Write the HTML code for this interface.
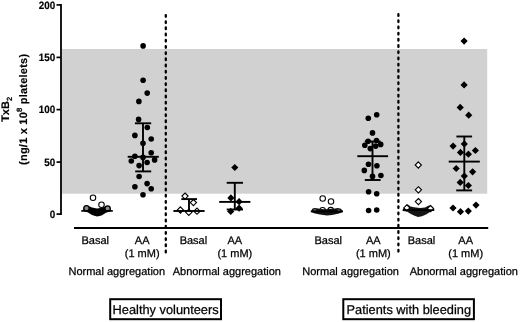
<!DOCTYPE html>
<html><head><meta charset="utf-8"><style>
html,body{margin:0;padding:0;background:#fff;width:520px;height:322px;overflow:hidden}
svg{display:block;filter:grayscale(1)}
text{font-family:"Liberation Sans",sans-serif;fill:#000;text-rendering:geometricPrecision}
.tk{font-size:10.6px;font-weight:bold;text-anchor:end;stroke:#000;stroke-width:0.2px}
.xl{font-size:11px;text-anchor:middle;stroke:#000;stroke-width:0.25px}
.bx{font-size:12.8px;text-anchor:middle;stroke:#000;stroke-width:0.25px}
.yl{font-size:11px;font-weight:bold;text-anchor:middle;stroke:#000;stroke-width:0.15px}
</style></head><body>
<svg width="520" height="322" viewBox="0 0 520 322">
<rect x="62" y="49" width="425.2" height="144.7" fill="#d1d1d1"/>
<line x1="61" y1="4.05" x2="61" y2="215" stroke="#000" stroke-width="1.8"/>
<line x1="56.5" y1="4.9" x2="61" y2="4.9" stroke="#000" stroke-width="1.7"/>
<text transform="translate(55.2,8.75) scale(0.93,1)" class="tk">200</text>
<line x1="56.5" y1="57.4" x2="61" y2="57.4" stroke="#000" stroke-width="1.7"/>
<text transform="translate(55.2,61.25) scale(0.93,1)" class="tk">150</text>
<line x1="56.5" y1="109.6" x2="61" y2="109.6" stroke="#000" stroke-width="1.7"/>
<text transform="translate(55.2,113.44999999999999) scale(0.93,1)" class="tk">100</text>
<line x1="56.5" y1="162.1" x2="61" y2="162.1" stroke="#000" stroke-width="1.7"/>
<text transform="translate(55.2,165.95) scale(0.93,1)" class="tk">50</text>
<line x1="56.5" y1="214.1" x2="61" y2="214.1" stroke="#000" stroke-width="1.7"/>
<text transform="translate(55.2,217.95) scale(0.93,1)" class="tk">0</text>
<line x1="74" y1="228" x2="488.2" y2="228" stroke="#000" stroke-width="1.9"/>
<line x1="165.8" y1="15.1" x2="165.8" y2="252.6" stroke="#000" stroke-width="2.3" stroke-dasharray="1.7 4.5" stroke-linecap="round"/>
<line x1="398.4" y1="14.2" x2="398.4" y2="251.5" stroke="#000" stroke-width="2.3" stroke-dasharray="1.7 4.5" stroke-linecap="round"/>
<text x="95.3" y="243.7" class="xl">Basal</text>
<text x="142.2" y="243.7" class="xl">AA</text>
<text x="142.2" y="257.1" class="xl">(1 mM)</text>
<text x="116.8" y="274.8" class="xl">Normal aggregation</text>
<text x="193.4" y="243.7" class="xl">Basal</text>
<text x="234.8" y="243.7" class="xl">AA</text>
<text x="234.8" y="257.1" class="xl">(1 mM)</text>
<text x="226.8" y="274.8" class="xl">Abnormal aggregation</text>
<text x="328.2" y="243.7" class="xl">Basal</text>
<text x="373.3" y="243.7" class="xl">AA</text>
<text x="373.3" y="257.1" class="xl">(1 mM)</text>
<text x="350.6" y="274.8" class="xl">Normal aggregation</text>
<text x="421.5" y="243.7" class="xl">Basal</text>
<text x="465.7" y="243.7" class="xl">AA</text>
<text x="465.7" y="257.1" class="xl">(1 mM)</text>
<text x="463.8" y="274.8" class="xl">Abnormal aggregation</text>
<rect x="110.2" y="299.2" width="110.8" height="20" fill="#fff" stroke="#000" stroke-width="2"/>
<text x="165.6" y="314" class="bx">Healthy volunteers</text>
<rect x="343.3" y="299.2" width="130.6" height="20" fill="#fff" stroke="#000" stroke-width="2"/>
<text x="408.8" y="314" class="bx">Patients with bleeding</text>
<text transform="translate(9.4,109.4) rotate(-90)" class="yl">TxB<tspan font-size="7.5" dy="2.5">2</tspan></text>
<text transform="translate(27.4,109.3) rotate(-90)" class="yl" letter-spacing="0.22">(ng/1 x 10<tspan font-size="7.7" dy="-5.2">8</tspan><tspan dy="5.2"> platelets)</tspan></text>
<path d="M83 209 L84 206.5 L86.5 205.3 L89 206.2 L92 207.5 L97 208.5 L102 207.8 L105 206.5 L107.7 205.8 L110 206.8 L111 209 L110 211.5 L106 212.8 L101.6 215.6 L97 216.4 L92 215 L88 212.5 L84 211Z" fill="#000"/>
<circle cx="86.5" cy="208.2" r="2.6" fill="#8a8a8a" stroke="#000" stroke-width="1.2"/>
<circle cx="107.6" cy="208.5" r="2.6" fill="#8a8a8a" stroke="#000" stroke-width="1.2"/>
<line x1="81.3" y1="210.9" x2="112.8" y2="210.9" stroke="#000" stroke-width="1.7"/>
<circle cx="93" cy="197.8" r="2.75" fill="#fff" stroke="#000" stroke-width="1.05"/>
<circle cx="101.5" cy="204.8" r="2.75" fill="#fff" stroke="#000" stroke-width="1.05"/>
<line x1="143" y1="123.3" x2="143" y2="171.4" stroke="#000" stroke-width="1.9"/>
<line x1="134.9" y1="123.3" x2="151.2" y2="123.3" stroke="#000" stroke-width="1.9"/>
<line x1="135.2" y1="171.4" x2="151.2" y2="171.4" stroke="#000" stroke-width="1.9"/>
<line x1="127.7" y1="156.8" x2="158.8" y2="156.8" stroke="#000" stroke-width="1.9"/>
<circle cx="143.1" cy="45.9" r="2.8" fill="#000"/>
<circle cx="143.1" cy="80.3" r="2.8" fill="#000"/>
<circle cx="147.2" cy="93.1" r="2.8" fill="#000"/>
<circle cx="138.9" cy="101.4" r="2.8" fill="#000"/>
<circle cx="138.6" cy="119.4" r="2.8" fill="#000"/>
<circle cx="147.3" cy="127.5" r="2.8" fill="#000"/>
<circle cx="134.9" cy="135.4" r="2.8" fill="#000"/>
<circle cx="151.2" cy="139" r="2.8" fill="#000"/>
<circle cx="143" cy="143.3" r="2.8" fill="#000"/>
<circle cx="151.2" cy="152.7" r="2.8" fill="#000"/>
<circle cx="134.9" cy="156.3" r="2.8" fill="#000"/>
<circle cx="131.3" cy="161" r="2.8" fill="#000"/>
<circle cx="143" cy="157.4" r="2.8" fill="#000"/>
<circle cx="154.6" cy="159.9" r="2.8" fill="#000"/>
<circle cx="147.1" cy="162.5" r="2.8" fill="#000"/>
<circle cx="139.1" cy="165.6" r="2.8" fill="#000"/>
<circle cx="139.1" cy="176.5" r="2.8" fill="#000"/>
<circle cx="147.1" cy="183.6" r="2.8" fill="#000"/>
<circle cx="134.9" cy="186.8" r="2.8" fill="#000"/>
<circle cx="151.2" cy="188.8" r="2.8" fill="#000"/>
<circle cx="143" cy="194.8" r="2.8" fill="#000"/>
<path d="M185 193.0L188.1 196.1L185 199.2L181.9 196.1Z" fill="#fff" stroke="#000" stroke-width="1.1"/>
<path d="M193.4 199.5L196.5 202.6L193.4 205.7L190.3 202.6Z" fill="#fff" stroke="#000" stroke-width="1.1"/>
<path d="M180.4 206.9L183.5 210L180.4 213.1L177.3 210Z" fill="#fff" stroke="#000" stroke-width="1.1"/>
<path d="M188.8 209.20000000000002L191.9 212.3L188.8 215.4L185.70000000000002 212.3Z" fill="#fff" stroke="#000" stroke-width="1.1"/>
<path d="M197 208.1L200.1 211.2L197 214.29999999999998L193.9 211.2Z" fill="#fff" stroke="#000" stroke-width="1.1"/>
<line x1="189" y1="199.1" x2="189" y2="211" stroke="#000" stroke-width="1.9"/>
<line x1="181.3" y1="199.1" x2="197" y2="199.1" stroke="#000" stroke-width="1.9"/>
<line x1="173.4" y1="211" x2="204.6" y2="211" stroke="#000" stroke-width="1.9"/>
<line x1="234.8" y1="182.8" x2="234.8" y2="209.5" stroke="#000" stroke-width="1.9"/>
<line x1="226.7" y1="182.8" x2="243" y2="182.8" stroke="#000" stroke-width="1.9"/>
<line x1="226.7" y1="209.5" x2="243" y2="209.5" stroke="#000" stroke-width="1.9"/>
<line x1="219.2" y1="201.9" x2="250.4" y2="201.9" stroke="#000" stroke-width="1.9"/>
<path d="M234.8 163.9L238.4 167.5L234.8 171.1L231.20000000000002 167.5Z" fill="#000"/>
<path d="M230.9 194.3L234.5 197.9L230.9 201.5L227.3 197.9Z" fill="#000"/>
<path d="M239.1 198.1L242.7 201.7L239.1 205.29999999999998L235.5 201.7Z" fill="#000"/>
<path d="M239.1 204.6L242.7 208.2L239.1 211.79999999999998L235.5 208.2Z" fill="#000"/>
<path d="M230.7 207.8L234.29999999999998 211.4L230.7 215.0L227.1 211.4Z" fill="#000"/>
<circle cx="322.6" cy="210.3" r="2.75" fill="#fff" stroke="#000" stroke-width="1.05"/>
<circle cx="330.7" cy="210.1" r="2.75" fill="#fff" stroke="#000" stroke-width="1.05"/>
<path d="M311 211.5 L312.3 208.7 L314.2 208.1 L317 208.3 L320.5 209 L325 209.3 L329 209.1 L332.8 208.8 L335 208.6 L338 208 L341 208.8 L342.8 211.3 L342 212.6 L338 213.8 L332 215 L327 215.6 L320 214.6 L315 213.5 L311.5 212.3Z" fill="#111"/>
<ellipse cx="314.8" cy="210" rx="1.4" ry="0.8" fill="#888"/>
<ellipse cx="338.7" cy="210.2" rx="1.4" ry="0.8" fill="#888"/>
<line x1="310.8" y1="211.4" x2="343" y2="211.4" stroke="#000" stroke-width="1.6"/>
<circle cx="322.7" cy="198.4" r="2.75" fill="#fff" stroke="#000" stroke-width="1.05"/>
<circle cx="331" cy="201.5" r="2.75" fill="#fff" stroke="#000" stroke-width="1.05"/>
<line x1="372.5" y1="141.5" x2="372.5" y2="180" stroke="#000" stroke-width="1.9"/>
<line x1="364.8" y1="141.5" x2="380.6" y2="141.5" stroke="#000" stroke-width="1.9"/>
<line x1="364.8" y1="180" x2="380.6" y2="180" stroke="#000" stroke-width="1.9"/>
<line x1="357.3" y1="156.2" x2="388.1" y2="156.2" stroke="#000" stroke-width="1.9"/>
<circle cx="376.7" cy="114.8" r="2.8" fill="#000"/>
<circle cx="368.3" cy="118.3" r="2.8" fill="#000"/>
<circle cx="372.5" cy="132.9" r="2.8" fill="#000"/>
<circle cx="368.1" cy="141.3" r="2.8" fill="#000"/>
<circle cx="364.8" cy="145.2" r="2.8" fill="#000"/>
<circle cx="370.3" cy="148.6" r="2.8" fill="#000"/>
<circle cx="376.5" cy="140.5" r="2.8" fill="#000"/>
<circle cx="380.7" cy="144.4" r="2.8" fill="#000"/>
<circle cx="375.7" cy="146.1" r="2.8" fill="#000"/>
<circle cx="368.5" cy="164.3" r="2.8" fill="#000"/>
<circle cx="376.9" cy="165.7" r="2.8" fill="#000"/>
<circle cx="364.3" cy="170.4" r="2.8" fill="#000"/>
<circle cx="372.5" cy="176.4" r="2.8" fill="#000"/>
<circle cx="380.9" cy="175.5" r="2.8" fill="#000"/>
<circle cx="368.6" cy="191.7" r="2.8" fill="#000"/>
<circle cx="376.7" cy="193.7" r="2.8" fill="#000"/>
<circle cx="368.6" cy="210.5" r="2.8" fill="#000"/>
<circle cx="376.7" cy="210" r="2.8" fill="#000"/>
<path d="M418.3 161.9L421.40000000000003 165L418.3 168.1L415.2 165Z" fill="#fff" stroke="#000" stroke-width="1.1"/>
<path d="M418.4 186.70000000000002L421.5 189.8L418.4 192.9L415.29999999999995 189.8Z" fill="#fff" stroke="#000" stroke-width="1.1"/>
<path d="M418.4 198.5L421.5 201.6L418.4 204.7L415.29999999999995 201.6Z" fill="#fff" stroke="#000" stroke-width="1.1"/>
<path d="M402.8 209.6 L404 207.8 L407.5 204.2 L410.5 206.6 L414 207.3 L420 208 L425 207.4 L429.4 205.3 L433 208.5 L434.3 209.9 L430 212 L426 214.5 L422 216.3 L418 217 L414 215.5 L410 213.5 L407 211.5 L402.8 211Z" fill="#151515"/>
<path d="M406.8 204.8L409.90000000000003 207.9L406.8 211.0L403.7 207.9Z" fill="#fff" stroke="#000" stroke-width="1.1"/>
<path d="M430.5 205.5L433.6 208.6L430.5 211.7L427.4 208.6Z" fill="#fff" stroke="#000" stroke-width="1.1"/>
<line x1="402.8" y1="210.2" x2="434.3" y2="210.2" stroke="#000" stroke-width="1.7"/>
<line x1="464.3" y1="136.5" x2="464.3" y2="190.4" stroke="#000" stroke-width="1.9"/>
<line x1="456.4" y1="136.5" x2="472.1" y2="136.5" stroke="#000" stroke-width="1.9"/>
<line x1="456.2" y1="190.4" x2="472.1" y2="190.4" stroke="#000" stroke-width="1.9"/>
<line x1="448.7" y1="161.6" x2="479.8" y2="161.6" stroke="#000" stroke-width="1.9"/>
<path d="M464.1 37.5L467.70000000000005 41.1L464.1 44.7L460.5 41.1Z" fill="#000"/>
<path d="M464.1 81.30000000000001L467.70000000000005 84.9L464.1 88.5L460.5 84.9Z" fill="#000"/>
<path d="M460.2 103.80000000000001L463.8 107.4L460.2 111.0L456.59999999999997 107.4Z" fill="#000"/>
<path d="M468.7 111.60000000000001L472.3 115.2L468.7 118.8L465.09999999999997 115.2Z" fill="#000"/>
<path d="M464.3 140.3L467.90000000000003 143.9L464.3 147.5L460.7 143.9Z" fill="#000"/>
<path d="M453.1 142.5L456.70000000000005 146.1L453.1 149.7L449.5 146.1Z" fill="#000"/>
<path d="M460.5 148.8L464.1 152.4L460.5 156.0L456.9 152.4Z" fill="#000"/>
<path d="M475.4 146.9L479.0 150.5L475.4 154.1L471.79999999999995 150.5Z" fill="#000"/>
<path d="M468.4 150.6L472.0 154.2L468.4 157.79999999999998L464.79999999999995 154.2Z" fill="#000"/>
<path d="M456.2 164.9L459.8 168.5L456.2 172.1L452.59999999999997 168.5Z" fill="#000"/>
<path d="M472.6 168.20000000000002L476.20000000000005 171.8L472.6 175.4L469.0 171.8Z" fill="#000"/>
<path d="M464.3 172.5L467.90000000000003 176.1L464.3 179.7L460.7 176.1Z" fill="#000"/>
<path d="M460.2 178.8L463.8 182.4L460.2 186.0L456.59999999999997 182.4Z" fill="#000"/>
<path d="M468.4 181.9L472.0 185.5L468.4 189.1L464.79999999999995 185.5Z" fill="#000"/>
<path d="M453 204.4L456.6 208L453 211.6L449.4 208Z" fill="#000"/>
<path d="M460.5 208.1L464.1 211.7L460.5 215.29999999999998L456.9 211.7Z" fill="#000"/>
<path d="M468.3 207.5L471.90000000000003 211.1L468.3 214.7L464.7 211.1Z" fill="#000"/>
<path d="M476 201.5L479.6 205.1L476 208.7L472.4 205.1Z" fill="#000"/>
</svg>
</body></html>
